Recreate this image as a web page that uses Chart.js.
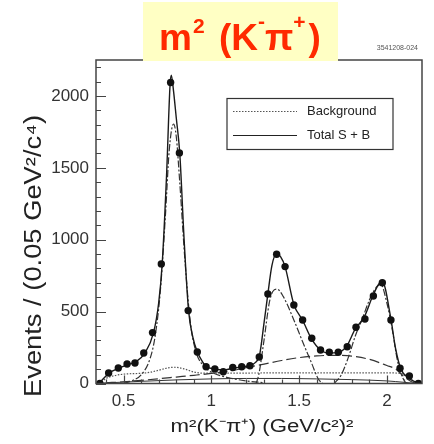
<!DOCTYPE html>
<html><head><meta charset="utf-8">
<script src="https://cdn.jsdelivr.net/npm/chart.js@4/dist/chart.umd.min.js"></script>
<style>html,body{margin:0;padding:0;background:#fff;}canvas{display:block;}</style>
</head><body>
<canvas id="c" width="434" height="444"></canvas>
<script>
// ---- data ----
const binCenters = [0.365,0.415,0.47,0.52,0.565,0.615,0.665,0.715,0.768,0.818,0.868,0.92,0.97,1.02,1.068,1.122,1.173,1.22,1.273,1.322,1.372,1.42,1.47,1.52,1.572,1.622,1.672,1.723,1.774,1.824,1.875,1.923,1.974,2.023,2.075,2.128,2.179];
const eventCounts = [0,73,108,136,143,212,354,832,2093,1604,507,219,117,101,82,111,117,123,184,623,899,813,546,442,315,233,217,217,256,391,449,609,701,442,106,52,0];

const totalX = [0.36,0.39,0.42,0.47,0.52,0.57,0.62,0.67,0.70,0.72,0.745,0.765,0.772,0.785,0.80,0.82,0.845,0.87,0.895,0.92,0.95,0.97,1.02,1.07,1.12,1.17,1.22,1.25,1.275,1.30,1.322,1.345,1.372,1.395,1.42,1.47,1.52,1.57,1.62,1.67,1.72,1.77,1.82,1.87,1.92,1.96,1.975,2.02,2.05,2.08,2.12,2.16,2.19];
const totalY = [0,40,75,105,130,150,210,350,560,832,1450,2080,2145,2030,1850,1604,1000,510,320,220,150,120,100,95,105,115,125,145,200,420,623,820,905,880,813,550,440,312,235,212,215,258,380,460,610,700,705,470,240,100,42,12,0];

const kstarX = [0.50,0.55,0.60,0.65,0.68,0.71,0.74,0.76,0.785,0.80,0.82,0.85,0.88,0.91,0.95,1.00,1.10,1.20,1.30];
const kstarY = [0,20,60,170,330,650,1200,1620,1805,1720,1400,850,430,230,130,80,40,18,5];

const k1430X = [1.255,1.27,1.30,1.33,1.35,1.375,1.41,1.47,1.52,1.57,1.61,1.635];
const k1430Y = [0,60,300,560,640,656,604,442,290,145,30,0];

const k2X = [1.70,1.74,1.78,1.82,1.86,1.90,1.94,1.965,2.00,2.03,2.06,2.09,2.11];
const k2Y = [0,60,180,330,450,580,670,690,560,380,160,40,0];

const broadX = [0.40,0.50,0.60,0.70,0.80,0.90,1.00,1.10,1.20,1.30,1.40,1.50,1.60,1.70,1.80,1.90,2.00,2.05,2.10,2.14,2.17];
const broadY = [5,12,22,33,45,57,70,86,110,135,160,180,192,196,190,168,125,100,45,12,0];

const bkgX = [0.375,0.40,0.45,0.50,0.60,0.65,0.70,0.75,0.79,0.85,0.90,0.95,1.00,1.50,2.00,2.08,2.12,2.17];
const bkgY = [10,35,55,65,71,78,92,108,113,100,80,72,72,74,74,70,40,5];

const lowX = [0.38,0.60,0.80,1.00,1.20,1.40,1.60,1.80,2.00,2.10,2.17];
const lowY = [3,15,25,32,35,35,32,27,18,8,0];

const xTickValues = [0.5,1,1.5,2];
const yTickValues = [0,500,1000,1500,2000];
const xAxisTitle = 'm\u00B2(K\u207B\u03C0\u207A) (GeV/c\u00B2)\u00B2';
const yAxisTitle = 'Events / (0.05 GeV\u00B2/c\u2074)';
const legendLabels = ['Background','Total S + B'];
const plotTag = '3541208-024';

const pts = (xs, ys) => xs.map((x, i) => ({x, y: ys[i]}));
const FONT = '"Liberation Sans", Arial, Helvetica, sans-serif';

const curve = (data, color, dash, width) => ({
  type: 'line', data, borderColor: color, borderWidth: width, borderDash: dash,
  pointRadius: 0, fill: false, cubicInterpolationMode: 'monotone'
});

// draw text centred at (cx, cy), stretched along its direction to a given length
function stretchedText(ctx, text, font, cx, cy, len, rot) {
  ctx.save();
  ctx.font = font;
  const w = ctx.measureText(text).width;
  ctx.translate(cx, cy);
  ctx.rotate(rot);
  ctx.scale(len / w, 1);
  ctx.textAlign = 'center';
  ctx.textBaseline = 'middle';
  ctx.fillText(text, 0, 0);
  ctx.restore();
}

const framePlugin = {
  id: 'frame',
  afterDatasetsDraw(chart) {
    const {ctx, chartArea: a, scales: {x, y}} = chart;
    ctx.save();
    ctx.strokeStyle = '#444';
    ctx.lineWidth = 1.5;
    ctx.strokeRect(a.left, a.top, a.right - a.left, a.bottom - a.top);
    ctx.lineWidth = 1.2;
    ctx.beginPath();
    for (let v = 0; v <= y.max; v += 100) {
      const py = Math.round(y.getPixelForValue(v)) + 0.5;
      const len = v % 500 === 0 ? 10 : 5;
      ctx.moveTo(a.left, py); ctx.lineTo(a.left + len, py);
    }
    for (let k = 4; k <= 22; k++) {
      const v = k / 10;
      const px = Math.round(x.getPixelForValue(v)) + 0.5;
      if (px > a.right - 1) continue;
      const len = k % 5 === 0 ? 8 : 4;
      ctx.moveTo(px, a.bottom); ctx.lineTo(px, a.bottom - len);
    }
    ctx.stroke();
    // legend
    const lx = a.right - 195, ly = a.top + 38.5, lw = 166, lh = 51;
    ctx.fillStyle = '#fff';
    ctx.fillRect(lx, ly, lw, lh);
    ctx.strokeStyle = '#333'; ctx.lineWidth = 1.2;
    ctx.strokeRect(lx, ly, lw, lh);
    ctx.strokeStyle = '#555'; ctx.setLineDash([1.5,1.5]);
    ctx.beginPath(); ctx.moveTo(lx + 6, ly + 13); ctx.lineTo(lx + 70, ly + 13); ctx.stroke();
    ctx.setLineDash([]); ctx.strokeStyle = '#222';
    ctx.beginPath(); ctx.moveTo(lx + 6, ly + 37); ctx.lineTo(lx + 70, ly + 37); ctx.stroke();
    ctx.fillStyle = '#222';
    ctx.font = '13px ' + FONT;
    ctx.textBaseline = 'middle';
    ctx.fillText(legendLabels[0], lx + 80, ly + 13);
    ctx.fillText(legendLabels[1], lx + 80, ly + 37);
    ctx.restore();
  },
  afterDraw(chart) {
    const {ctx} = chart;
    ctx.save();
    // axis titles
    ctx.fillStyle = '#222';
    stretchedText(ctx, yAxisTitle, '23px ' + FONT, 35, 256, 282, -Math.PI / 2);
    stretchedText(ctx, xAxisTitle, '18px ' + FONT, 262, 427, 183, 0);
    // title box
    ctx.fillStyle = '#ffffc4';
    ctx.fillRect(143, 2, 195, 59);
    ctx.fillStyle = '#ff2a00';
    ctx.textBaseline = 'alphabetic';
    const big = 'bold 37px ' + FONT, small = 'bold 21px ' + FONT;
    const parts = [['m', big, 0, 1], ['2', small, -17, 4], [' (K', big, 0, 0], ['-', small, -22, 0], ['\u03C0', big, 0, 0], ['+', small, -21, 3], [')', big, 0, 0]];
    let w = 0;
    parts.forEach(p => { ctx.font = p[1]; w += ctx.measureText(p[0]).width + p[3]; });
    let xx = 240 - w / 2; const base = 50;
    parts.forEach(p => { ctx.font = p[1]; ctx.fillText(p[0], xx, base + p[2]); xx += ctx.measureText(p[0]).width + p[3]; });
    ctx.fillStyle = '#555';
    ctx.font = '7px ' + FONT;
    ctx.textAlign = 'right';
    ctx.fillText(plotTag, 418, 50);
    ctx.restore();
  }
};

new Chart(document.getElementById('c'), {
  type: 'line',
  data: {
    datasets: [
      {type: 'line', data: pts(binCenters, eventCounts), showLine: false, pointRadius: 3.7, pointBackgroundColor: '#111', pointBorderColor: '#111', pointBorderWidth: 0},
      curve(pts(totalX, totalY), '#1a1a1a', [], 1.4),
      curve(pts(kstarX, kstarY), '#333', [7,2,2,2], 1.2),
      curve(pts(k1430X, k1430Y), '#333', [7,2,2,2], 1.2),
      curve(pts(k2X, k2Y), '#333', [7,2,2,2], 1.2),
      curve(pts(broadX, broadY), '#333', [10,4], 1.2),
      curve(pts(bkgX, bkgY), '#555', [1.5,1.5], 1.2),
      curve(pts(lowX, lowY), '#333', [], 1)
    ]
  },
  options: {
    responsive: false, animation: false, devicePixelRatio: 1,
    layout: {padding: {left: 16, right: 12, top: 60, bottom: 0}},
    plugins: {legend: {display: false}, tooltip: {enabled: false}},
    scales: {
      x: {
        type: 'linear', min: 0.343, max: 2.2,
        grid: {display: false, drawTicks: false}, border: {display: false},
        afterBuildTicks: s => { s.ticks = xTickValues.map(v => ({value: v})); },
        afterFit: s => { s.height = 60.5; },
        ticks: {padding: 8, color: '#333', font: {family: FONT, size: 17}, callback: v => String(v)},
        title: {display: false}
      },
      y: {
        type: 'linear', min: 0, max: 2250,
        grid: {display: false, drawTicks: false}, border: {display: false},
        afterBuildTicks: s => { s.ticks = yTickValues.map(v => ({value: v})); },
        afterFit: s => { s.width = 80; },
        ticks: {padding: 7, color: '#333', font: {family: FONT, size: 17}, callback: v => String(v)},
        title: {display: false}
      }
    }
  },
  plugins: [framePlugin]
});
</script></body></html>
